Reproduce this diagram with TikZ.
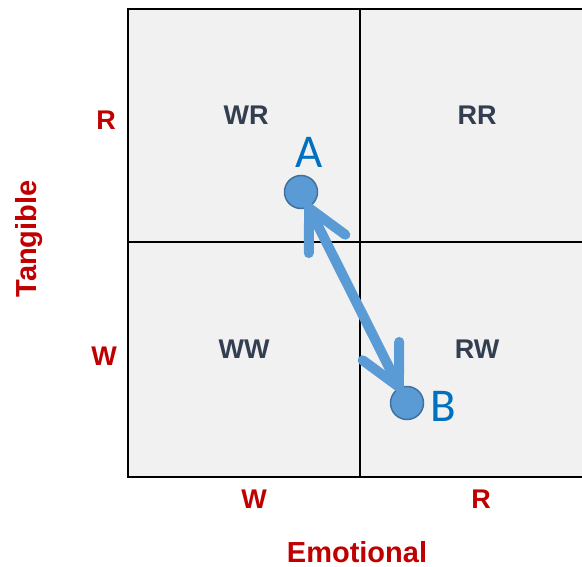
\documentclass[tikz,border=0pt]{standalone}
\usepackage{fontspec}
\setmainfont{Liberation Sans}
\newfontfamily\pointfont{Carlito}
\usetikzlibrary{calc}

\definecolor{gridfill}{HTML}{F1F1F1}
\definecolor{quadtext}{HTML}{333F50}
\definecolor{axisred}{HTML}{C00000}
\definecolor{movefill}{HTML}{5B9BD5}
\definecolor{moveedge}{HTML}{41719C}
\definecolor{pointblue}{HTML}{0070C0}

\tikzset{
  quad/.style={anchor=base, text=quadtext, font=\fontsize{27bp}{30bp}\selectfont\bfseries},
  axislbl/.style={anchor=base, text=axisred, font=\fontsize{27bp}{30bp}\selectfont\bfseries},
  axisname/.style={anchor=base, text=axisred, font=\fontsize{29bp}{32bp}\selectfont\bfseries},
  spot/.style={circle, fill=movefill, draw=moveedge, line width=1.5bp, minimum size=33bp, inner sep=0pt},
  spotname/.style={anchor=base, text=pointblue, font=\pointfont\fontsize{47bp}{50bp}\selectfont},
  move/.style={draw=movefill, line width=10bp, line cap=round, line join=round}
}

\begin{document}
\begin{tikzpicture}[x=1bp, y=-1bp]
  \useasboundingbox (0,0) rectangle (582,567);

  % the four quadrants
  \fill[gridfill] (128,9) rectangle (582,477);
  \draw[line width=2.8bp] (582,9) -- (128,9) -- (128,477) -- (582,477);
  \draw[line width=2.8bp] (360,9) -- (360,477);
  \draw[line width=2.8bp] (128,242) -- (582,242);

  \node[quad] (wr) at (246,125) {WR};
  \node[quad] (rr) at (477,125) {RR};
  \node[quad] (ww) at (244,358) {WW};
  \node[quad] (rw) at (477,358) {RW};

  % axes
  \node[axislbl] (yr) at (106,130) {R};
  \node[axislbl] (yw) at (104,365) {W};
  \node[axislbl] (xw) at (254,508) {W};
  \node[axislbl] (xr) at (481,508) {R};
  \node[axisname, rotate=90] (tang) at (36,239) {Tangible};
  \node[axisname] (emo) at (357,562) {Emotional};

  % the move from A to B
  \node[spot] (a) at (301,192) {};
  \node[spot] (b) at (407,403) {};
  \node[spotname] (alab) at (309,168) {A};
  \node[spotname] (blab) at (443,421) {B};

  \coordinate (ta) at ($(a.center)!18bp!(b.center)$);
  \coordinate (tb) at ($(b.center)!18bp!(a.center)$);
  \draw[move] (ta) -- (tb);
  \draw[move] ($(ta)!45bp!27:(tb)$) -- (ta) -- ($(ta)!45bp!-27:(tb)$);
  \draw[move] ($(tb)!45bp!27:(ta)$) -- (tb) -- ($(tb)!45bp!-27:(ta)$);
\end{tikzpicture}
\end{document}
